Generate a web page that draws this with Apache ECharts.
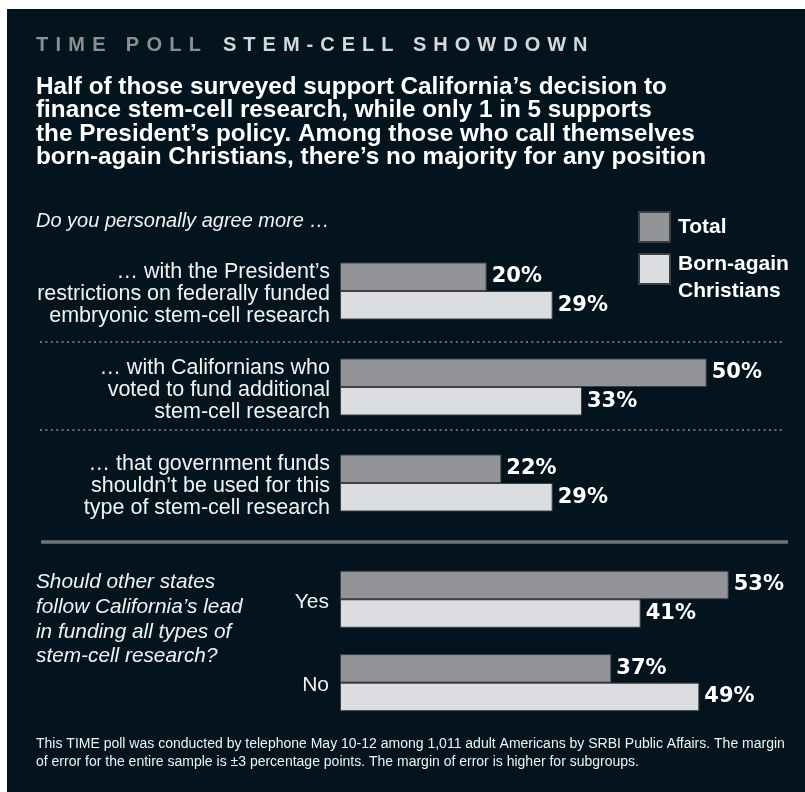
<!DOCTYPE html>
<html>
<head>
<meta charset="utf-8">
<script src="https://cdn.jsdelivr.net/npm/echarts@6/dist/echarts.min.js"></script>
<style>html,body{margin:0;padding:0;background:#fff;}#c{width:805px;height:792px;}</style>
</head>
<body>
<div id="c"></div>
<script>
// ---- data ----
const agreeCategories = [
  '\u2026 with the President\u2019s\nrestrictions on federally funded\nembryonic stem-cell research',
  '\u2026 with Californians who\nvoted to fund additional\nstem-cell research',
  '\u2026 that government funds\nshouldn\u2019t be used for this\ntype of stem-cell research'
];
const agreeTotal = [20, 50, 22];
const agreeBornAgain = [29, 33, 29];
const followCategories = ['Yes', 'No'];
const followTotal = [53, 37];
const followBornAgain = [41, 49];
const seriesNames = ['Total', 'Born-again Christians'];

// letter-spaced kicker text (drawn by the library, spacing applied on the canvas)
const SPACED = {'TIME POLL': '7.3px', 'STEM-CELL SHOWDOWN': '7px'};
(function(){
  const proto = CanvasRenderingContext2D.prototype;
  const orig = proto.fillText;
  function refont(ctx){ const f = ctx.font; ctx.font = '10px serif'; ctx.font = f; }
  proto.fillText = function(t, x, y, m){
    if (SPACED[t] && 'letterSpacing' in this) {
      this.letterSpacing = SPACED[t];
      refont(this);
      orig.call(this, t, x, y);
      this.letterSpacing = '0px';
      refont(this);
    } else if (m === undefined) {
      orig.call(this, t, x, y);
    } else {
      orig.call(this, t, x, y, m);
    }
  };
})();

const BG = '#03141f';
const C_TOTAL = '#939497';
const C_BORN = '#dcdde0';
const C_EDGE = '#3c3f43';
const SANS = '"Liberation Sans", Arial, sans-serif';
const VALFONT = '"DejaVu Sans", "Liberation Sans", sans-serif';

const chart = echarts.init(document.getElementById('c'), null, {renderer: 'canvas'});

function barSeries(name, data, axisIdx, color) {
  return {
    type: 'bar', name: name, data: data,
    xAxisIndex: axisIdx, yAxisIndex: axisIdx,
    barWidth: 28.5, barGap: '0%',
    itemStyle: {color: color, borderColor: C_EDGE, borderWidth: 1},
    label: {show: true, position: 'right', distance: 5, formatter: '{c}%',
      color: '#ffffff', fontFamily: VALFONT, fontWeight: 'bold', fontSize: 21},
    emphasis: {disabled: true}, silent: true, animation: false
  };
}

// category label: a small spacer line on top nudges the block down a little
function shiftedLabel(size, lh, spacer) {
  return {
    align: 'right', margin: 10,
    formatter: function (v) {
      return '{s| }\n' + String(v).split('\n').map(function (l) { return '{t|' + l + '}'; }).join('\n');
    },
    rich: {
      s: {fontSize: 4, lineHeight: spacer, align: 'right'},
      t: {color: '#f2f2f2', fontFamily: SANS, fontSize: size, lineHeight: lh, align: 'right'}
    }
  };
}

const option = {
  backgroundColor: '#ffffff',
  animation: false,
  grid: [
    {left: 340, width: 440, top: 243, height: 288},
    {left: 340, width: 440, top: 557.6, height: 166.7}
  ],
  xAxis: [
    {gridIndex: 0, type: 'value', min: 0, max: 60, show: false},
    {gridIndex: 1, type: 'value', min: 0, max: 60, show: false}
  ],
  yAxis: [
    {gridIndex: 0, type: 'category', data: agreeCategories, inverse: true,
     axisLine: {show: false}, axisTick: {show: false}, splitLine: {show: false},
     axisLabel: shiftedLabel(21.5, 22, 6)},
    {gridIndex: 1, type: 'category', data: followCategories, inverse: true,
     axisLine: {show: false}, axisTick: {show: false}, splitLine: {show: false},
     axisLabel: Object.assign(shiftedLabel(21, 24, 5), {margin: 11})}
  ],
  legend: [
    {left: 638, top: 211, padding: 0, orient: 'vertical', data: [seriesNames[0]],
     itemWidth: 31, itemHeight: 30, icon: 'rect', selectedMode: false,
     textStyle: {color: '#ffffff', fontFamily: SANS, fontWeight: 'bold', fontSize: 21, padding: [0, 0, 0, 3]}},
    {left: 638, top: 240, padding: 0, orient: 'vertical', data: [seriesNames[1]],
     itemWidth: 31, itemHeight: 30, icon: 'rect', selectedMode: false,
     formatter: function(){ return '{s| }\n{t|Born-again}\n{t|Christians}'; },
     textStyle: {padding: [0, 0, 0, 3], rich: {
       s: {fontSize: 4, lineHeight: 18},
       t: {color: '#ffffff', fontFamily: SANS, fontWeight: 'bold', fontSize: 21, lineHeight: 27}
     }}}
  ],
  series: [
    barSeries(seriesNames[0], agreeTotal, 0, C_TOTAL),
    barSeries(seriesNames[1], agreeBornAgain, 0, C_BORN),
    barSeries(seriesNames[0], followTotal, 1, C_TOTAL),
    barSeries(seriesNames[1], followBornAgain, 1, C_BORN)
  ],
  graphic: [
    {type: 'rect', z: -10, silent: true, shape: {x: 7, y: 9, width: 800, height: 790}, style: {fill: BG}},
    {type: 'text', left: 36, top: 35, silent: true,
     style: {text: 'TIME POLL', fill: '#8d8e90', font: 'bold 20px ' + SANS}},
    {type: 'text', left: 223, top: 35, silent: true,
     style: {text: 'STEM-CELL SHOWDOWN', fill: '#d6d7d9', font: 'bold 20px ' + SANS}},
    {type: 'text', left: 36, top: 75, silent: true,
     style: {text: 'Half of those surveyed support California\u2019s decision to\nfinance stem-cell research, while only 1 in 5 supports\nthe President\u2019s policy. Among those who call themselves\nborn-again Christians, there\u2019s no majority for any position',
       fill: '#ffffff', font: 'bold 24.3px ' + SANS, lineHeight: 23.5}},
    {type: 'text', left: 36, top: 211, silent: true,
     style: {text: 'Do you personally agree more \u2026', fill: '#f2f2f2', font: 'italic 20px ' + SANS}},
    {type: 'text', left: 36, top: 570, silent: true,
     style: {text: 'Should other states\nfollow California\u2019s lead\nin funding all types of\nstem-cell research?', fill: '#f2f2f2', font: 'italic 20.8px ' + SANS, lineHeight: 24.7}},
    {type: 'line', silent: true, shape: {x1: 40, y1: 342, x2: 784, y2: 342},
     style: {stroke: '#6b6e72', lineWidth: 2, lineDash: [2, 3.4]}},
    {type: 'line', silent: true, shape: {x1: 40, y1: 430, x2: 784, y2: 430},
     style: {stroke: '#6b6e72', lineWidth: 2, lineDash: [2, 3.4]}},
    {type: 'line', silent: true, shape: {x1: 41, y1: 542, x2: 788, y2: 542},
     style: {stroke: '#707276', lineWidth: 3.5}},
    {type: 'text', left: 36, top: 735, silent: true,
     style: {text: 'This TIME poll was conducted by telephone May 10-12 among 1,011 adult Americans by SRBI Public Affairs. The margin\nof error for the entire sample is \u00b13 percentage points. The margin of error is higher for subgroups.',
       fill: '#f2f2f2', font: '14px ' + SANS, lineHeight: 18}}
  ]
};
chart.setOption(option);
</script>
</body>
</html>
